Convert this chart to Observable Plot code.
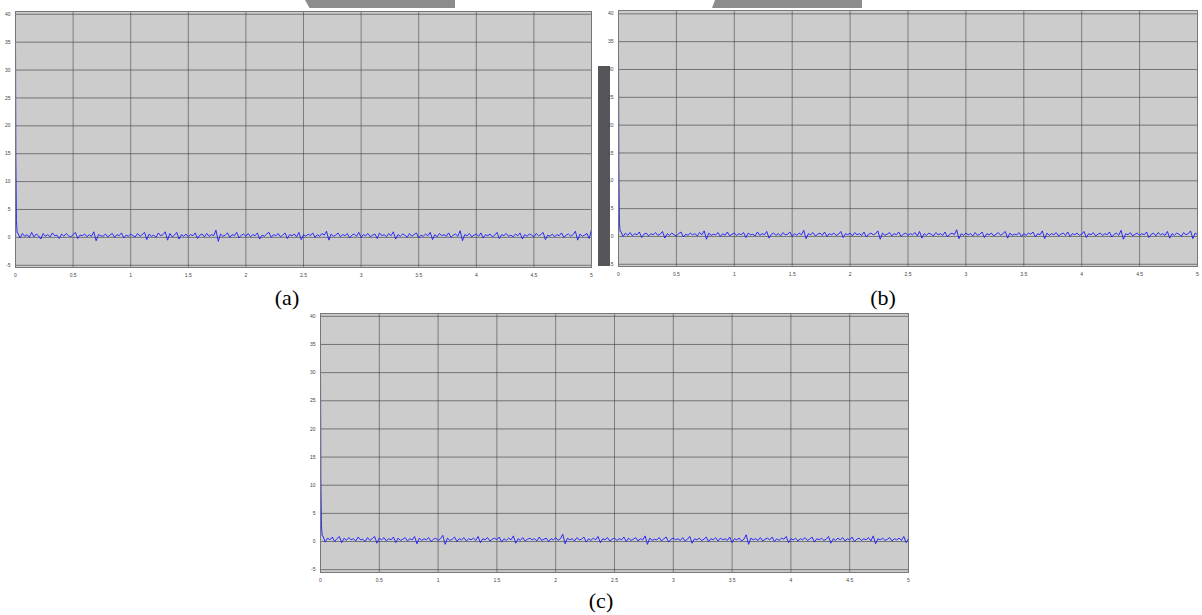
<!DOCTYPE html>
<html>
<head>
<meta charset="utf-8">
<script src="https://cdn.jsdelivr.net/npm/d3@7"></script>
<script src="https://cdn.jsdelivr.net/npm/@observablehq/plot@0.6"></script>
<style>
  html, body { margin: 0; padding: 0; background: #fff; }
  #root { position: relative; width: 1202px; height: 615px; overflow: hidden; }
  .pnl { position: absolute; }
  .lbl { position: absolute; font-family: "Liberation Serif", "Times New Roman", serif; font-size: 22px; line-height: 24px; color: #000; transform: translateX(-50%); }
  .deco { position: absolute; }
</style>
</head>
<body>
<div id="root"></div>
<script>
// ---- data ----
const xTicks = [0, 0.5, 1, 1.5, 2, 2.5, 3, 3.5, 4, 4.5, 5];
const yTicks = [-5, 0, 5, 10, 15, 20, 25, 30, 35, 40];
const panelLabels = ["(a)", "(b)", "(c)"];
const sampleStep = 0.02;
const spikeTimes = [0, 0.003, 0.008, 0.014];
const spikeA = [36, 14, 3, 0.8];
const spikeB = [34, 12, 2.5, 0.9];
const spikeC = [33, 11, 2.8, 1.0];
const noiseA = [
0.8,-0.1,0.7,0.2,0.5,0.0,0.9,0.1,0.6,0.3,-0.3,0.7,0.2,0.5,0.1,0.8,0.3,0.4,-0.2,0.6,0.2,0.7,0.3,0.1,0.5,
0.9,-0.2,0.4,0.3,0.6,0.1,0.5,0.2,1.0,-0.6,0.5,0.3,0.2,0.6,0.1,0.4,0.7,0.0,0.5,0.3,0.8,-0.1,0.4,0.2,0.6,
0.3,0.1,0.7,0.2,0.5,0.9,-0.4,0.6,0.2,0.4,0.0,0.8,0.3,0.5,1.0,-0.5,0.7,0.1,0.4,0.9,-0.3,0.5,0.2,0.6,0.1,
0.5,0.3,0.8,-0.2,0.4,0.6,0.1,0.7,0.2,0.5,0.3,1.3,-0.7,0.6,0.2,0.4,0.8,0.0,0.5,0.3,0.9,-0.1,0.4,0.6,0.2,
0.7,0.1,0.5,0.3,0.8,-0.3,0.4,0.2,0.6,0.9,0.0,0.5,0.3,0.7,0.1,0.4,0.8,-0.2,0.5,0.3,0.6,0.1,0.9,-0.4,0.5,
0.2,0.6,0.3,0.8,0.0,0.5,0.2,0.7,0.4,1.1,-0.5,0.6,0.2,0.4,0.8,0.1,0.5,0.3,0.7,-0.1,0.4,0.6,0.2,0.9,0.0,
0.5,0.3,0.7,0.1,0.4,0.6,-0.2,0.8,0.3,0.5,0.1,0.7,0.3,1.0,-0.3,0.5,0.2,0.6,0.4,0.0,0.7,0.2,0.5,0.8,-0.1,
0.4,0.2,0.6,0.3,0.9,-0.4,0.5,0.1,0.7,0.3,0.5,0.2,0.8,0.0,0.4,0.6,0.2,1.2,-0.6,0.5,0.3,0.7,0.1,0.4,0.6,
0.2,0.8,-0.1,0.5,0.3,0.6,0.1,0.4,0.9,-0.2,0.5,0.3,0.7,0.2,0.4,0.1,0.6,0.3,0.8,-0.3,0.5,0.2,0.6,0.4,0.1,
0.7,0.3,0.5,0.9,-0.4,0.4,0.2,0.6,0.1,0.5,0.3,0.8,0.0,0.4,0.6,0.2,0.5,1.1,-0.5,0.6,0.2,0.4,0.7,-0.2,1.4
];
const noiseB = [
0.9,0.0,0.6,0.2,0.7,0.1,0.5,0.3,0.8,-0.2,0.4,0.6,0.1,0.5,0.3,0.7,0.2,0.4,0.9,-0.3,0.5,0.2,0.6,0.3,0.1,
0.5,0.8,-0.1,0.4,0.2,0.6,0.3,0.5,0.1,0.7,0.3,1.0,-0.5,0.6,0.2,0.4,0.3,0.7,0.0,0.5,0.2,0.8,0.1,0.4,0.6,
0.2,0.5,0.3,0.7,-0.2,0.6,0.3,0.4,0.1,0.8,0.2,0.5,0.3,0.9,-0.3,0.4,0.6,0.2,0.5,0.1,0.7,0.3,0.4,0.8,0.0,
0.5,0.2,0.6,0.3,1.1,-0.4,0.5,0.3,0.7,0.1,0.4,0.6,0.2,0.8,0.0,0.5,0.3,0.6,0.2,0.4,0.9,-0.2,0.5,0.3,0.6,
0.1,0.7,0.3,0.5,0.2,0.8,-0.1,0.4,0.6,0.3,0.5,1.0,-0.5,0.6,0.2,0.4,0.7,0.1,0.5,0.3,0.8,0.0,0.4,0.6,0.2,
0.5,0.3,0.7,0.1,0.9,-0.3,0.5,0.2,0.6,0.4,0.1,0.7,0.3,0.5,0.2,0.8,-0.1,0.4,0.6,0.3,1.2,-0.4,0.5,0.2,0.6,
0.3,0.5,0.1,0.7,0.2,0.4,0.8,-0.2,0.5,0.3,0.6,0.1,0.4,0.7,0.2,0.5,0.9,-0.3,0.6,0.2,0.4,0.3,0.7,0.0,0.5,
0.2,0.6,0.4,0.8,-0.1,0.5,0.3,1.0,-0.4,0.6,0.2,0.5,0.3,0.7,0.1,0.4,0.6,0.2,0.8,0.0,0.5,0.3,0.6,0.2,0.4,
0.9,-0.2,0.5,0.3,0.7,0.1,0.4,0.6,0.2,0.5,0.3,0.8,-0.1,0.4,0.6,0.2,1.1,-0.5,0.5,0.3,0.7,0.1,0.4,0.6,0.2,
0.5,0.3,0.8,-0.2,0.4,0.6,0.1,0.7,0.3,0.5,0.2,0.9,-0.3,0.5,0.2,0.6,0.4,0.0,0.7,0.3,0.5,1.0,-0.4,0.6,0.3
];
const noiseC = [
1.0,-0.1,0.6,0.3,0.8,0.0,0.5,0.9,-0.2,0.6,0.2,0.7,0.3,0.5,0.1,0.8,0.3,0.4,0.0,0.7,0.2,0.5,0.9,-0.3,0.6,
0.3,0.7,0.1,0.5,0.3,0.8,-0.2,0.6,0.2,0.4,0.7,0.1,0.5,0.3,0.9,-0.4,0.6,0.2,0.5,0.3,0.7,0.0,0.4,0.6,0.2,
0.5,1.1,-0.5,0.6,0.2,0.4,0.8,0.0,0.5,0.3,0.7,0.1,0.5,0.3,0.6,0.2,0.9,-0.2,0.5,0.3,0.7,0.1,0.4,0.6,0.3,
0.8,-0.1,0.5,0.2,0.6,0.3,1.0,-0.3,0.5,0.2,0.7,0.1,0.4,0.6,0.3,0.5,0.1,0.8,0.2,0.4,0.6,0.0,0.5,0.3,0.7,
0.2,0.5,1.3,-0.4,0.6,0.3,0.5,0.1,0.7,0.3,0.4,0.8,-0.1,0.5,0.2,0.6,0.3,0.9,-0.2,0.5,0.3,0.7,0.1,0.4,0.6,
0.2,0.5,0.3,0.8,0.0,0.6,0.2,0.4,0.7,0.1,0.5,0.3,1.0,-0.5,0.6,0.2,0.4,0.3,0.7,0.1,0.5,0.8,-0.1,0.4,0.6,
0.3,0.5,0.2,0.7,0.1,0.4,0.9,-0.3,0.5,0.3,0.6,0.2,0.4,0.8,0.0,0.5,0.3,0.7,0.1,0.6,0.3,0.5,0.2,0.8,-0.2,
0.5,0.3,0.6,0.1,0.4,1.2,-0.5,0.6,0.3,0.5,0.2,0.7,0.1,0.4,0.6,0.3,0.8,0.0,0.5,0.2,0.6,0.4,0.9,-0.2,0.5,
0.3,0.6,0.1,0.5,0.3,0.7,0.2,0.4,0.8,-0.1,0.5,0.3,0.6,0.2,0.4,0.9,-0.3,0.5,0.2,0.6,0.3,0.7,0.1,0.5,0.3,
0.8,0.0,0.4,0.6,0.2,0.5,0.3,0.7,0.1,1.0,-0.4,0.5,0.3,0.6,0.2,0.4,0.7,0.1,0.5,0.3,0.6,0.2,0.9,-0.2,0.5
];

// ---- build ----
const root = document.getElementById("root");

function series(spike, noise) {
  return [
    ...spikeTimes.map((t, i) => ({t, v: spike[i]})),
    ...noise.map((v, i) => ({t: sampleStep * (i + 1), v}))
  ];
}

function panel(spike, noise, o) {
  const data = series(spike, noise);
  const svg = Plot.plot({
    width: o.width, height: o.height,
    marginLeft: o.ml, marginRight: o.mr, marginTop: o.mt, marginBottom: o.mb,
    x: {domain: [0, 5], label: null},
    y: {domain: o.yDomain, label: null},
    style: {background: "transparent", fontFamily: "Liberation Sans, Arial, sans-serif", fontSize: "5px", color: "#444"},
    marks: [
      Plot.frame({fill: "#cccccc"}),
      Plot.gridX(xTicks, {stroke: "#3a3a3a", strokeOpacity: 0.55, strokeWidth: 1}),
      Plot.gridY(yTicks, {stroke: "#3a3a3a", strokeOpacity: 0.6, strokeWidth: 1}),
      Plot.lineY(data, {x: "t", y: "v", stroke: "#1a1aff", strokeWidth: 0.9}),
      Plot.frame({stroke: "#777", strokeWidth: 1}),
      Plot.axisX(xTicks, {tickSize: 0, tickPadding: 6, tickFormat: d => String(d), fill: "#444", label: null}),
      Plot.axisY(yTicks, {tickSize: 0, tickPadding: 5, tickFormat: d => String(d), fill: "#444", label: null})
    ]
  });
  svg.classList.add("pnl");
  svg.style.left = o.left + "px";
  svg.style.top = o.top + "px";
  root.appendChild(svg);
}

// decorations (screenshot artifacts)
function deco(left, top, w, h, color, clip) {
  const d = document.createElement("div");
  d.className = "deco";
  Object.assign(d.style, {left: left + "px", top: top + "px", width: w + "px", height: h + "px", background: color});
  if (clip) d.style.clipPath = clip;
  root.appendChild(d);
}
deco(305, 0, 150, 8, "#8c8c8c", "polygon(0 0, 100% 0, 100% 100%, 3% 100%)");
deco(712, 0, 150, 8, "#8c8c8c", "polygon(2% 0, 100% 0, 100% 100%, 0 100%)");
deco(598, 66, 12, 200, "#56565a");

panel(spikeA, noiseA, {left: 0, top: 0, width: 600, height: 285, ml: 15, mr: 9, mt: 11, mb: 18, yDomain: [-5.4, 40.5]});
panel(spikeB, noiseB, {left: 600, top: 0, width: 602, height: 285, ml: 18, mr: 5, mt: 10, mb: 19, yDomain: [-5.4, 40.6]});
panel(spikeC, noiseC, {left: 300, top: 300, width: 615, height: 290, ml: 20, mr: 7, mt: 13, mb: 18, yDomain: [-5.5, 40.5]});

function label(text, x, y) {
  const d = document.createElement("div");
  d.className = "lbl";
  d.textContent = text;
  d.style.left = x + "px";
  d.style.top = y + "px";
  root.appendChild(d);
}
label(panelLabels[0], 287, 286);
label(panelLabels[1], 883, 286);
label(panelLabels[2], 601, 589);
</script>
</body>
</html>
